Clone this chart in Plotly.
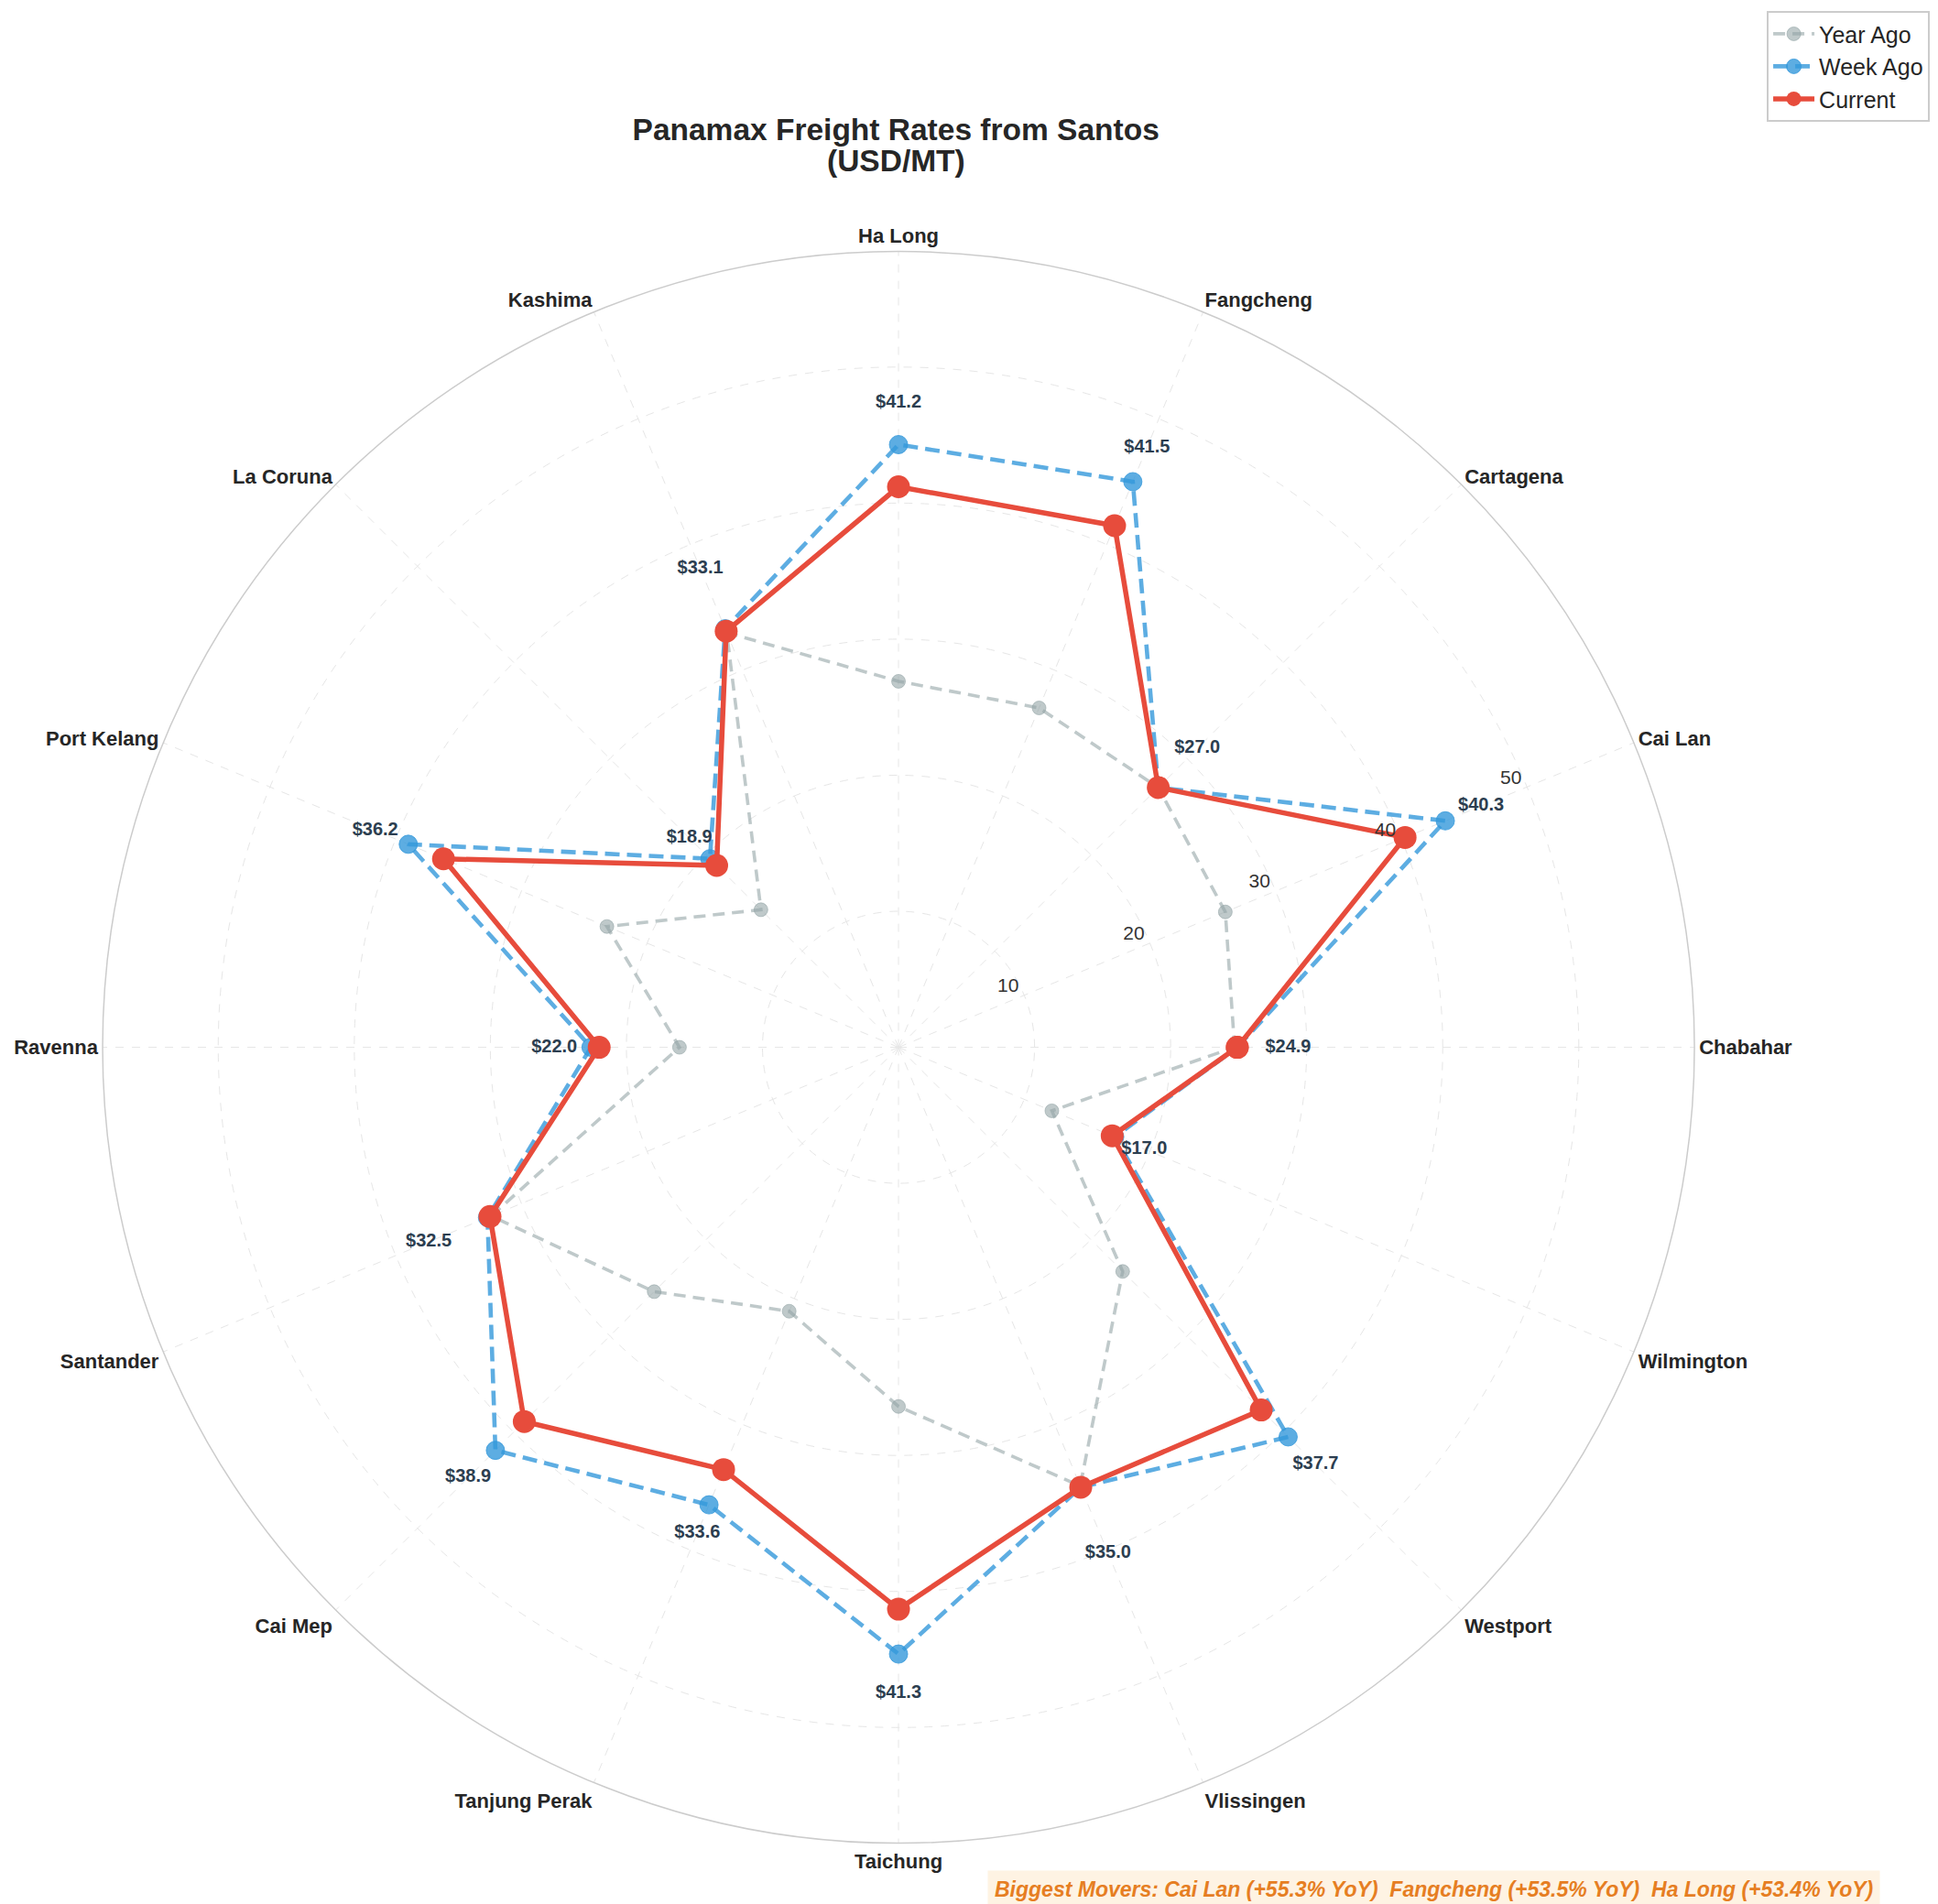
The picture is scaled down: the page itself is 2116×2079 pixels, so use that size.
"""Panamax 運費雷達圖(Santos 出發):目前 / 一週前 / 一年前。"""
import plotly.graph_objects as go

PORTS = ["Chabahar", "Cai Lan", "Cartagena", "Fangcheng", "Ha Long", "Kashima",
         "La Coruna", "Port Kelang", "Ravenna", "Santander", "Cai Mep",
         "Tanjung Perak", "Taichung", "Vlissingen", "Westport", "Wilmington"]
CURRENT = [24.9, 40.3, 27.0, 41.5, 41.2, 33.1, 18.9, 36.2, 22.0, 32.5, 38.9,
           33.6, 41.3, 35.0, 37.7, 17.0]
WEEK_AGO = [24.9, 43.5, 27.0, 45.0, 44.3, 33.3, 19.6, 39.0, 22.6, 32.7, 41.9,
            36.4, 44.6, 35.0, 40.5, 17.2]
YEAR_AGO = [24.7, 26.0, 27.0, 27.0, 26.9, 33.0, 14.3, 23.2, 16.1, 32.4, 25.4,
            21.0, 26.4, 34.9, 23.3, 12.2]
RADIAL_TICKS = [10, 20, 30, 40, 50]
TITLE_1 = "Panamax Freight Rates from Santos"
TITLE_2 = "(USD/MT)"
MOVERS_TEXT = ("Biggest Movers: Cai Lan (+55.3% YoY)  Fangcheng (+53.5% YoY)  "
               "Ha Long (+53.4% YoY)")

FONT = "Liberation Sans, Arial, DejaVu Sans"
DARK = "#262626"


def closed(vals):
    # 雷達圖要首尾相接
    return list(vals) + [vals[0]]


theta = closed(PORTS)
rmax = max(WEEK_AGO) * 1.3
fig = go.Figure()

fig.add_trace(go.Scatterpolar(
    r=closed(YEAR_AGO), theta=theta, mode="lines+markers", name="Year Ago",
    line=dict(color="rgba(149,165,166,0.6)", width=3.6, dash="13px,8px"),
    marker=dict(size=15, color="rgba(149,165,166,0.6)",
                line=dict(color="rgba(149,165,166,0.6)", width=1))))
fig.add_trace(go.Scatterpolar(
    r=closed(WEEK_AGO), theta=theta, mode="lines+markers", name="Week Ago",
    line=dict(color="rgba(52,152,219,0.8)", width=4.6, dash="16px,8px"),
    marker=dict(size=20, color="rgba(52,152,219,0.8)",
                line=dict(color="rgba(52,152,219,0.8)", width=1))))
fig.add_trace(go.Scatterpolar(
    r=closed(CURRENT), theta=theta, mode="lines+markers", name="Current",
    line=dict(color="#E74C3C", width=5.5),
    marker=dict(size=25, color="#E74C3C")))

# 數值標籤:放在目前值外側 15%
fig.add_trace(go.Scatterpolar(
    r=[v * 1.15 for v in CURRENT], theta=PORTS, mode="text",
    text=["$%.1f" % v for v in CURRENT], showlegend=False, hoverinfo="skip",
    textfont=dict(family=FONT, size=20, color="#2C3E50", weight="bold")))

fig.update_layout(
    width=2116, height=2079,
    paper_bgcolor="white", plot_bgcolor="white",
    font=dict(family=FONT, color=DARK),
    margin=dict(l=0, r=0, t=0, b=0),
    title=dict(text="<b>%s</b>" % TITLE_1, x=0.4585, xanchor="center",
               y=0.9357, yanchor="middle",
               font=dict(family=FONT, size=33.5, color=DARK)),
    polar=dict(
        domain=dict(x=[0.049, 0.8707], y=[0.0358, 0.8718]),
        bgcolor="white",
        angularaxis=dict(rotation=0, direction="counterclockwise",
                         tickfont=dict(family=FONT, size=22, color=DARK, weight="bold"),
                         ticks="", showline=True, linecolor="#CCCCCC", linewidth=1.5,
                         gridcolor="#E6E6E6", griddash="dash", gridwidth=1),
        radialaxis=dict(range=[0, rmax], tickvals=RADIAL_TICKS, angle=22.5,
                        tickangle=22.5, side="counterclockwise", showline=False, ticks="",
                        tickfont=dict(family=FONT, size=21, color="#333333"),
                        gridcolor="#E6E6E6", griddash="dash", gridwidth=1.2),
    ),
    legend=dict(x=0.992, xanchor="right", y=0.998, yanchor="top",
                bgcolor="white", bordercolor="#CCCCCC", borderwidth=2,
                itemwidth=45, tracegroupgap=4,
                font=dict(family=FONT, size=25, color=DARK)),
    annotations=[
        dict(text="<b>%s</b>" % TITLE_2, xref="paper", yref="paper",
             x=0.4585, y=0.9196, xanchor="center", yanchor="middle",
             showarrow=False, font=dict(family=FONT, size=33.5, color=DARK)),
        dict(text="<b><i>%s</i></b>" % MOVERS_TEXT, xref="paper", yref="paper",
             x=0.736, y=0.0115, xanchor="center", yanchor="middle",
             showarrow=False, bgcolor="rgba(253,235,208,0.6)", borderpad=7,
             font=dict(family=FONT, size=23, color="#E67E22")),
    ],
)

fig.write_html("out.html")
